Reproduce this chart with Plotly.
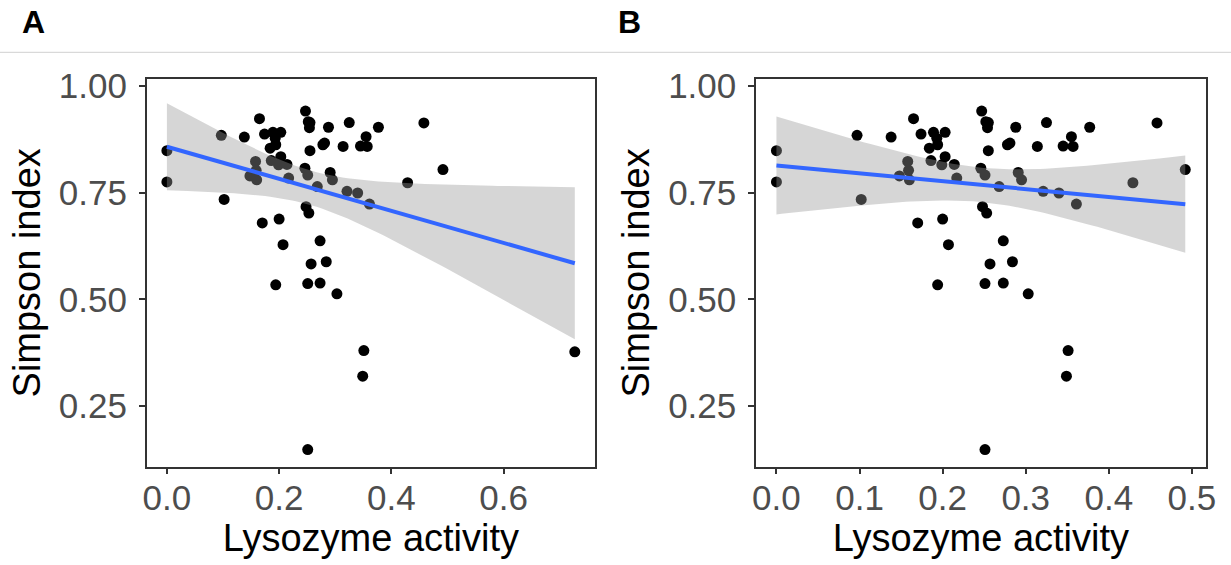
import numpy as np
import plotly.graph_objects as go

# Lysozyme activity and Simpson index (panel B = all samples except the outlier)
lysozyme = [0.000, 0.000, 0.097, 0.102, 0.138, 0.165, 0.174, 0.189, 0.203, 0.193,
            0.184, 0.194, 0.203, 0.186, 0.199, 0.214, 0.158, 0.159, 0.148, 0.160,
            0.217, 0.170, 0.200, 0.207, 0.194, 0.247, 0.252, 0.255, 0.254, 0.255,
            0.246, 0.251, 0.248, 0.253, 0.257, 0.251, 0.251, 0.268, 0.273, 0.284,
            0.273, 0.303, 0.288, 0.278, 0.281, 0.291, 0.295, 0.314, 0.325, 0.321,
            0.340, 0.351, 0.349, 0.355, 0.345, 0.357, 0.361, 0.377, 0.429, 0.458,
            0.492]
simpson = [0.848, 0.775, 0.884, 0.734, 0.880, 0.923, 0.887, 0.891, 0.891, 0.877,
           0.854, 0.862, 0.834, 0.825, 0.815, 0.816, 0.823, 0.802, 0.789, 0.780,
           0.784, 0.679, 0.688, 0.628, 0.534, 0.941, 0.916, 0.914, 0.902, 0.848,
           0.807, 0.791, 0.717, 0.702, 0.583, 0.537, 0.148, 0.764, 0.637, 0.588,
           0.538, 0.513, 0.903, 0.862, 0.866, 0.797, 0.780, 0.858, 0.914, 0.753,
           0.749, 0.380, 0.320, 0.881, 0.859, 0.858, 0.723, 0.903, 0.773, 0.913,
           0.804]
outlier_lysozyme = [0.727]
outlier_simpson = [0.377]

panel_labels = ["A", "B"]
x_title = "Lysozyme activity"
y_title = "Simpson index"
y_ticks = [0.25, 0.50, 0.75, 1.00]
xa_ticks = [0.0, 0.2, 0.4, 0.6]
xb_ticks = [0.0, 0.1, 0.2, 0.3, 0.4, 0.5]


def lm_fit(x, y, n_grid=80, t=2.0):
    x = np.asarray(x, float)
    y = np.asarray(y, float)
    n = len(x)
    b1, b0 = np.polyfit(x, y, 1)
    resid = y - (b0 + b1 * x)
    s = np.sqrt(np.sum(resid ** 2) / (n - 2))
    xbar = x.mean()
    sxx = np.sum((x - xbar) ** 2)
    g = np.linspace(x.min(), x.max(), n_grid)
    fit = b0 + b1 * g
    se = s * np.sqrt(1.0 / n + (g - xbar) ** 2 / sxx)
    return g, fit, fit - t * se, fit + t * se


xA = lysozyme + outlier_lysozyme
yA = simpson + outlier_simpson
xB = lysozyme
yB = simpson

FONT = "Liberation Sans, Arial, sans-serif"
fig = go.Figure()

for (xs, ys, xa, ya) in [(xA, yA, "x", "y"), (xB, yB, "x2", "y2")]:
    fig.add_trace(go.Scatter(x=xs, y=ys, mode="markers", xaxis=xa, yaxis=ya,
                             marker=dict(color="black", size=11, line=dict(width=0)),
                             showlegend=False, hoverinfo="skip"))
    g, fit, lo, hi = lm_fit(xs, ys)
    fig.add_trace(go.Scatter(x=np.concatenate([g, g[::-1]]),
                             y=np.concatenate([hi, lo[::-1]]),
                             mode="lines", fill="toself", xaxis=xa, yaxis=ya,
                             fillcolor="rgba(153,153,153,0.4)",
                             line=dict(width=0, color="rgba(0,0,0,0)"),
                             showlegend=False, hoverinfo="skip"))
    fig.add_trace(go.Scatter(x=g, y=fit, mode="lines", xaxis=xa, yaxis=ya,
                             line=dict(color="#3366FF", width=4),
                             showlegend=False, hoverinfo="skip"))

W, H = 1231, 565
ydom = [1 - 466.7 / H, 1 - 79 / H]
axis_common = dict(showgrid=False, zeroline=False, showline=True, mirror=True,
                   automargin=False,
                   linecolor="#333333", linewidth=1.5, ticks="outside", ticklen=6,
                   tickwidth=1.5, tickcolor="#333333",
                   tickfont=dict(family=FONT, size=35, color="#4d4d4d"))
title_font = dict(family=FONT, size=38, color="black")

fig.update_layout(
    template="none",
    width=W, height=H, margin=dict(l=0, r=0, t=0, b=0, pad=0),
    paper_bgcolor="white", plot_bgcolor="white",
    xaxis=dict(domain=[146.7 / W, 595 / W], range=[-0.036, 0.763],
               tickvals=xa_ticks, ticktext=[f"{v:.1f}" for v in xa_ticks],
               ticklabelstandoff=-6,
               title=dict(text=x_title, font=title_font, standoff=2), anchor="y",
               **axis_common),
    yaxis=dict(domain=ydom, range=[0.108, 1.016], tickvals=y_ticks,
               ticktext=[f"{v:.2f}" for v in y_ticks], anchor="x",
               ticklabelstandoff=5,
               title=dict(text=y_title, font=title_font, standoff=7),
               **axis_common),
    xaxis2=dict(domain=[756 / W, 1205.7 / W], range=[-0.0246, 0.5166],
                tickvals=xb_ticks, ticktext=[f"{v:.1f}" for v in xb_ticks],
                ticklabelstandoff=-6,
                title=dict(text=x_title, font=title_font, standoff=2), anchor="y2",
                **axis_common),
    yaxis2=dict(domain=ydom, range=[0.108, 1.016], tickvals=y_ticks,
                ticktext=[f"{v:.2f}" for v in y_ticks], anchor="x2",
                ticklabelstandoff=5,
                title=dict(text=y_title, font=title_font, standoff=7),
                **axis_common),
)

fig.add_shape(type="line", xref="paper", yref="paper", x0=0, x1=1,
              y0=1 - 52.3 / H, y1=1 - 52.3 / H,
              line=dict(color="#d9d9d9", width=1.2))

for lbl, px in zip(panel_labels, [33.5, 629.7]):
    fig.add_annotation(text=f"<b>{lbl}</b>", xref="paper", yref="paper",
                       x=px / W, y=1 - 22 / H, xanchor="center", yanchor="middle",
                       showarrow=False, font=dict(family=FONT, size=32, color="black"))

fig.write_html("out.html", config={"displayModeBar": False},
               post_script="document.body.style.margin='0';")
